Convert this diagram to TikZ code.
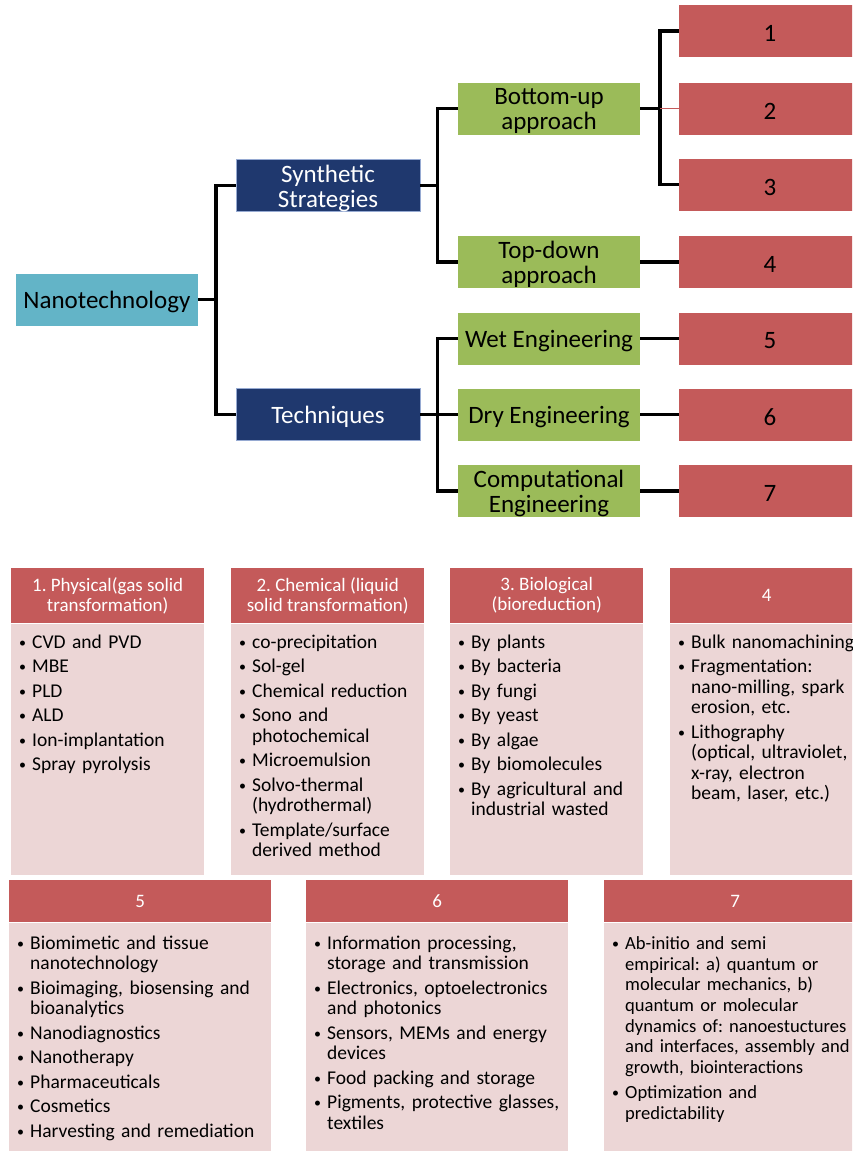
\documentclass[tikz,border=0pt]{standalone}
\usepackage{fontspec}
\setmainfont{Carlito}
\definecolor{cTeal}{RGB}{99,180,199}
\definecolor{cNavy}{RGB}{31,56,110}
\definecolor{cNavyB}{RGB}{150,170,210}
\definecolor{cGreen}{RGB}{155,187,89}
\definecolor{cRed}{RGB}{196,90,90}
\definecolor{cPink}{RGB}{236,214,214}
\newcommand\bfirst{\noindent\llap{\raisebox{1.2pt}{\fontsize{14}{14}\selectfont\textbullet}\hspace{6pt}}}
\newcommand\bnext{\par\vspace{4pt}\bfirst}
\newcommand\lowr[1]{\raisebox{-2.5pt}[\height][\depth]{#1}}
\tikzset{
  topbox/.style={minimum width=182pt, minimum height=52pt, inner sep=0pt, align=center, font=\fontsize{25}{25}\selectfont},
  nanobox/.style={topbox, fill=cTeal, text=black},
  navybox/.style={topbox, minimum width=184pt, fill=cNavy, draw=cNavyB, line width=0.8pt, text=white},
  greenbox/.style={topbox, fill=cGreen, text=black},
  redbox/.style={topbox, fill=cRed, text=black},
  conn/.style={draw=black, line width=3.5pt},
  thinconn/.style={draw=cRed, line width=1pt},
  headA/.style={anchor=north west, fill=cRed, text=white, inner sep=0pt, minimum width=193pt, minimum height=55pt, align=center, font=\fontsize{19}{20}\selectfont},
  headB/.style={headA, minimum width=262pt, minimum height=42pt},
  bodyA/.style={anchor=north, fill=cPink, inner sep=0pt, minimum width=193pt, minimum height=251pt},
  bodyB/.style={bodyA, minimum width=262pt, minimum height=235pt},
  listtext/.style={anchor=base west, inner sep=0pt, text width=300pt, font=\fontsize{19.5}{20.5}\selectfont\frenchspacing},
}
\begin{document}
\frenchspacing
\begin{tikzpicture}[x=1pt,y=-1pt]
\useasboundingbox (0,0) rectangle (852,1151);
\clip (0,0) rectangle (852,1151);
\fill[white] (0,0) rectangle (852,1151);
% top tree
\node[nanobox] (nano) at (107,299.5) {\lowr{Nanotechnology}};
\node[navybox] (syn) at (328,185.5) {\lowr{Synthetic}\\\lowr{Strategies}};
\node[navybox] (tec) at (328,414.5) {\lowr{Techniques}};
\node[greenbox] (bu) at (549,108.5) {\lowr{Bottom-up}\\\lowr{approach}};
\node[greenbox] (td) at (549,262) {\lowr{Top-down}\\\lowr{approach}};
\node[greenbox] (wet) at (549,338.5) {\lowr{Wet Engineering}};
\node[greenbox] (dry) at (549,414.5) {\lowr{Dry Engineering}};
\node[greenbox] (comp) at (549,491) {\lowr{Computational}\\\lowr{Engineering}};
\node[redbox] (r1) at (770,31) {\lowr{1}};
\node[redbox] (r2) at (770,108.5) {\lowr{2}};
\node[redbox] (r3) at (770,184.5) {\lowr{3}};
\node[redbox] (r4) at (770,262) {\lowr{4}};
\node[redbox] (r5) at (770,338.5) {\lowr{5}};
\node[redbox] (r6) at (770,414.5) {\lowr{6}};
\node[redbox] (r7) at (770,491) {\lowr{7}};
\coordinate (j0) at ([xshift=18pt]nano.east);
\coordinate (j1) at ([xshift=17pt]syn.east);
\coordinate (j2) at ([xshift=17pt]tec.east);
\coordinate (j3) at ([xshift=20pt]bu.east);
\draw[conn] (nano.east) -- (j0);
\draw[conn] (syn.west) -| (j0) |- (tec.west);
\draw[conn] (syn.east) -- (j1);
\draw[conn] (bu.west) -| (j1) |- (td.west);
\draw[conn] (tec.east) -- (dry.west);
\draw[conn] (wet.west) -| (j2) |- (comp.west);
\draw[conn] (bu.east) -- (j3);
\draw[conn] (r1.west) -| (j3) |- (r3.west);
\draw[thinconn] (j3) -- (r2.west);
\draw[conn] (td.east) -- (r4.west);
\draw[conn] (wet.east) -- (r5.west);
\draw[conn] (dry.east) -- (r6.west);
\draw[conn] (comp.east) -- (r7.west);
% row 1 panels
\node[headA] (h1) at (11,568) {1. Physical(gas solid\\transformation)};
\node[bodyA] (b1) at (h1.south) {};
\node[listtext] (t1) at ([xshift=21pt,yshift=-25pt]h1.south west) {\bfirst CVD and PVD\bnext MBE\bnext PLD\bnext ALD\bnext Ion-implantation\bnext Spray pyrolysis};
\node[headA] (h2) at (231,568) {2. Chemical (liquid\\solid transformation)};
\node[bodyA] (b2) at (h2.south) {};
\node[listtext] (t2) at ([xshift=21pt,yshift=-25pt]h2.south west) {\bfirst co-precipitation\bnext Sol-gel\bnext Chemical reduction\bnext Sono and\\photochemical\bnext Microemulsion\bnext Solvo-thermal\\(hydrothermal)\bnext Template/surface\\derived method};
\node[headA] (h3) at (450,568) {3. Biological\\(bioreduction)};
\node[bodyA] (b3) at (h3.south) {};
\node[listtext] (t3) at ([xshift=21pt,yshift=-25pt]h3.south west) {\bfirst By plants\bnext By bacteria\bnext By fungi\bnext By yeast\bnext By algae\bnext By biomolecules\bnext By agricultural and\\industrial wasted};
\node[headA] (h4) at (670,568) {4};
\node[bodyA] (b4) at (h4.south) {};
\node[listtext] (t4) at ([xshift=21pt,yshift=-25pt]h4.south west) {\bfirst Bulk nanomachining\bnext Fragmentation:\\nano-milling, spark\\erosion, etc.\bnext Lithography\\(optical, ultraviolet,\\x-ray, electron\\beam, laser, etc.)};
% row 2 panels
\node[headB] (h5) at (9,880) {5};
\node[bodyB] (b5) at (h5.south) {};
\node[listtext] (t5) at ([xshift=21pt,yshift=-27pt]h5.south west) {\bfirst Biomimetic and tissue\\nanotechnology\bnext Bioimaging, biosensing and\\bioanalytics\bnext Nanodiagnostics\bnext Nanotherapy\bnext Pharmaceuticals\bnext Cosmetics\bnext Harvesting and remediation};
\node[headB] (h6) at (306,880) {6};
\node[bodyB] (b6) at (h6.south) {};
\node[listtext] (t6) at ([xshift=21pt,yshift=-27pt]h6.south west) {\bfirst Information processing,\\storage and transmission\bnext Electronics, optoelectronics\\and photonics\bnext Sensors, MEMs and energy\\devices\bnext Food packing and storage\bnext Pigments, protective glasses,\\textiles};
\node[headB] (h7) at (604,880) {7};
\node[bodyB] (b7) at (h7.south) {};
\node[listtext, font=\fontsize{18.6}{20.7}\selectfont\frenchspacing] (t7) at ([xshift=21pt,yshift=-27pt]h7.south west) {\bfirst Ab-initio and semi\\empirical: a) quantum or\\molecular mechanics, b)\\quantum or molecular\\dynamics of: nanoestuctures\\and interfaces, assembly and\\growth, biointeractions\bnext Optimization and\\predictability};
\end{tikzpicture}
\end{document}
